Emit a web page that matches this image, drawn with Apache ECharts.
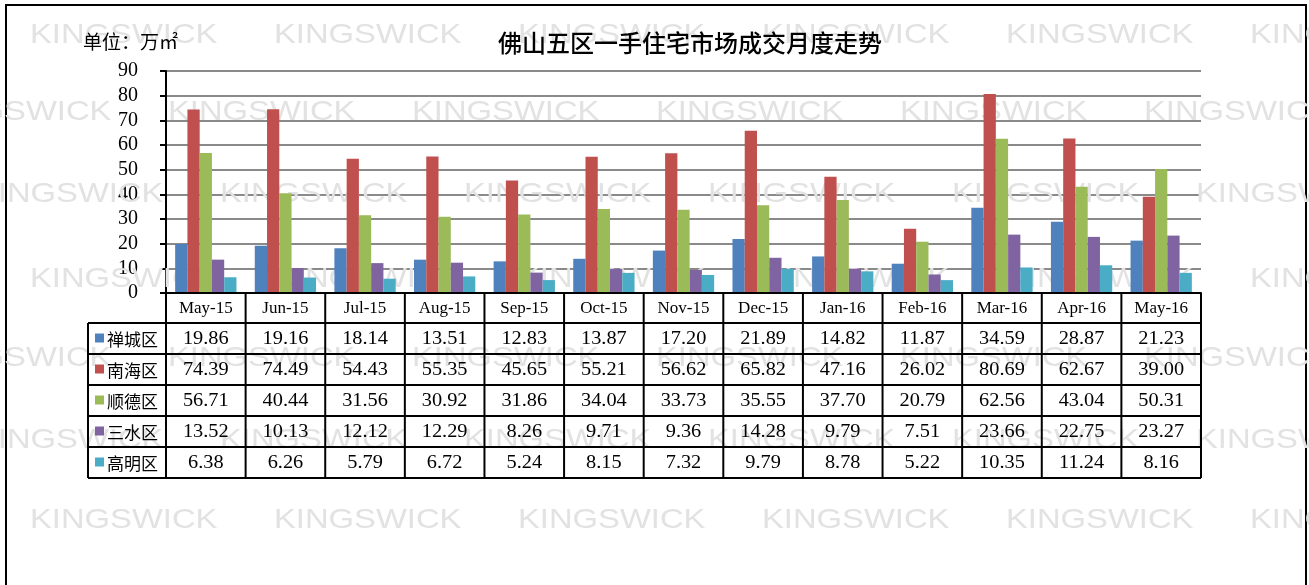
<!DOCTYPE html>
<html>
<head>
<meta charset="utf-8">
<script src="https://cdn.jsdelivr.net/npm/echarts@6/dist/echarts.min.js"></script>
<style>
html,body{margin:0;padding:0;background:#fff;}
#chart{width:1309px;height:585px;}
</style>
</head>
<body>
<div id="chart"></div>
<script>
// ---- data ----
const titleText = '佛山五区一手住宅市场成交月度走势';
const unitText = '单位：万㎡';
const categories = ['May-15','Jun-15','Jul-15','Aug-15','Sep-15','Oct-15','Nov-15','Dec-15','Jan-16','Feb-16','Mar-16','Apr-16','May-16'];
const seriesNames = ['禅城区','南海区','顺德区','三水区','高明区'];
const chancheng = [19.86,19.16,18.14,13.51,12.83,13.87,17.20,21.89,14.82,11.87,34.59,28.87,21.23];
const nanhai    = [74.39,74.49,54.43,55.35,45.65,55.21,56.62,65.82,47.16,26.02,80.69,62.67,39.00];
const shunde    = [56.71,40.44,31.56,30.92,31.86,34.04,33.73,35.55,37.70,20.79,62.56,43.04,50.31];
const sanshui   = [13.52,10.13,12.12,12.29,8.26,9.71,9.36,14.28,9.79,7.51,23.66,22.75,23.27];
const gaoming   = [6.38,6.26,5.79,6.72,5.24,8.15,7.32,9.79,8.78,5.22,10.35,11.24,8.16];
const yMin = 0, yMax = 90, yInterval = 10;
const watermarkText = 'KINGSWICK';

// ---- styles / layout ----
const colors = ['#4F81BD','#C0504D','#9BBB59','#8064A2','#4BACC6'];
const allSeries = [chancheng, nanhai, shunde, sanshui, gaoming];
const GRID_LEFT = 166, GRID_TOP = 71, GRID_W = 1035, GRID_BOTTOM_Y = 293;
const TABLE_LEFT = 88;
const HEADER_BOTTOM = 323, ROW_H = 31;
const serifNum = '"Liberation Serif", "DejaVu Serif", serif';
const cjk = '"Noto Sans CJK SC", sans-serif';

const chart = echarts.init(document.getElementById('chart'), null, {renderer: 'canvas'});

const graphics = [];
// outer frame
graphics.push({type:'rect', z:0, shape:{x:6,y:5,width:1300,height:600}, style:{fill:'#fff', stroke:'#000', lineWidth:2}, silent:true});

// watermark
const wmRows = [[35,30],[112,-76],[194,-24],[279,30],[358,-76],[440,-24],[520,30],[600,-76]];
wmRows.forEach(function(r){
  for (let x = r[1]; x < 1309; x += 244) {
    graphics.push({type:'text', z:1, x:x, y:r[0], scaleX:1.17, silent:true,
      style:{text:watermarkText, x:0, y:0, fill:'#e2e2e2', font:'28px "Liberation Sans", Arial, sans-serif',
        textVerticalAlign:'middle', verticalAlign:'middle', textAlign:'left', align:'left'}});
  }
});

// title & unit
graphics.push({type:'text', z:50, silent:true, style:{text:titleText, x:690, y:43, fill:'#000', font:'500 24px ' + cjk, textAlign:'center', align:'center', textVerticalAlign:'middle', verticalAlign:'middle'}});
graphics.push({type:'text', z:50, silent:true, style:{text:unitText, x:83, y:42, fill:'#000', font:'19px ' + cjk, textAlign:'left', align:'left', textVerticalAlign:'middle', verticalAlign:'middle'}});

// table lines
const colW = GRID_W / categories.length;
const tableBottom = HEADER_BOTTOM + ROW_H * seriesNames.length;
const lineStyle = {stroke:'#000', lineWidth:2};
for (let i = 0; i <= seriesNames.length; i++) {
  const y = HEADER_BOTTOM + i * ROW_H;
  graphics.push({type:'line', z:60, silent:true, shape:{x1:TABLE_LEFT, y1:y, x2:GRID_LEFT+GRID_W, y2:y}, style:lineStyle});
}
graphics.push({type:'line', z:60, silent:true, shape:{x1:TABLE_LEFT, y1:HEADER_BOTTOM, x2:TABLE_LEFT, y2:tableBottom}, style:lineStyle});
for (let j = 0; j <= categories.length; j++) {
  const x = GRID_LEFT + j * colW;
  graphics.push({type:'line', z:60, silent:true, shape:{x1:x, y1:GRID_BOTTOM_Y, x2:x, y2:tableBottom}, style:lineStyle});
}
// legend cells + values
seriesNames.forEach(function(name, i){
  const cy = HEADER_BOTTOM + i * ROW_H + ROW_H / 2;
  graphics.push({type:'rect', z:61, silent:true, shape:{x:95, y:cy-5, width:9, height:9}, style:{fill:colors[i]}});
  graphics.push({type:'text', z:61, silent:true, style:{text:name, x:107, y:cy+1, fill:'#000', font:'17px ' + cjk, textAlign:'left', align:'left', textVerticalAlign:'middle', verticalAlign:'middle'}});
  allSeries[i].forEach(function(v, j){
    graphics.push({type:'text', z:61, silent:true, x:GRID_LEFT + (j+0.5)*colW, y:cy+1, scaleX:1.07,
      style:{text:v.toFixed(2), x:0, y:0, fill:'#000', font:'19px ' + serifNum, textAlign:'center', align:'center', textVerticalAlign:'middle', verticalAlign:'middle'}});
  });
});

const option = {
  animation: false,
  backgroundColor: '#fff',
  color: colors,
  grid: {left: GRID_LEFT, top: GRID_TOP, width: GRID_W, height: GRID_BOTTOM_Y - GRID_TOP, containLabel: false},
  xAxis: {
    type: 'category',
    data: categories,
    z: 70,
    axisLine: {show: true, lineStyle: {color: '#000', width: 2}},
    axisTick: {show: false},
    axisLabel: {margin: 7, color: '#000', fontFamily: serifNum, fontSize: 17, lineHeight: 17, interval: 0}
  },
  yAxis: {
    type: 'value',
    min: yMin, max: yMax, interval: yInterval,
    axisLine: {show: true, lineStyle: {color: '#000', width: 2}},
    axisTick: {show: true, length: 6, lineStyle: {color: '#000', width: 2}},
    axisLabel: {margin: 28, color: '#000', fontFamily: serifNum, fontSize: 20},
    splitLine: {show: true, lineStyle: {color: '#8a8a8a', width: 2}}
  },
  series: seriesNames.map(function(name, i){
    return {name: name, type: 'bar', data: allSeries[i], barGap: '0%', barCategoryGap: '23%', z: 5,
      itemStyle: {color: colors[i]}};
  }),
  graphic: {elements: graphics}
};
chart.setOption(option);
</script>
</body>
</html>
